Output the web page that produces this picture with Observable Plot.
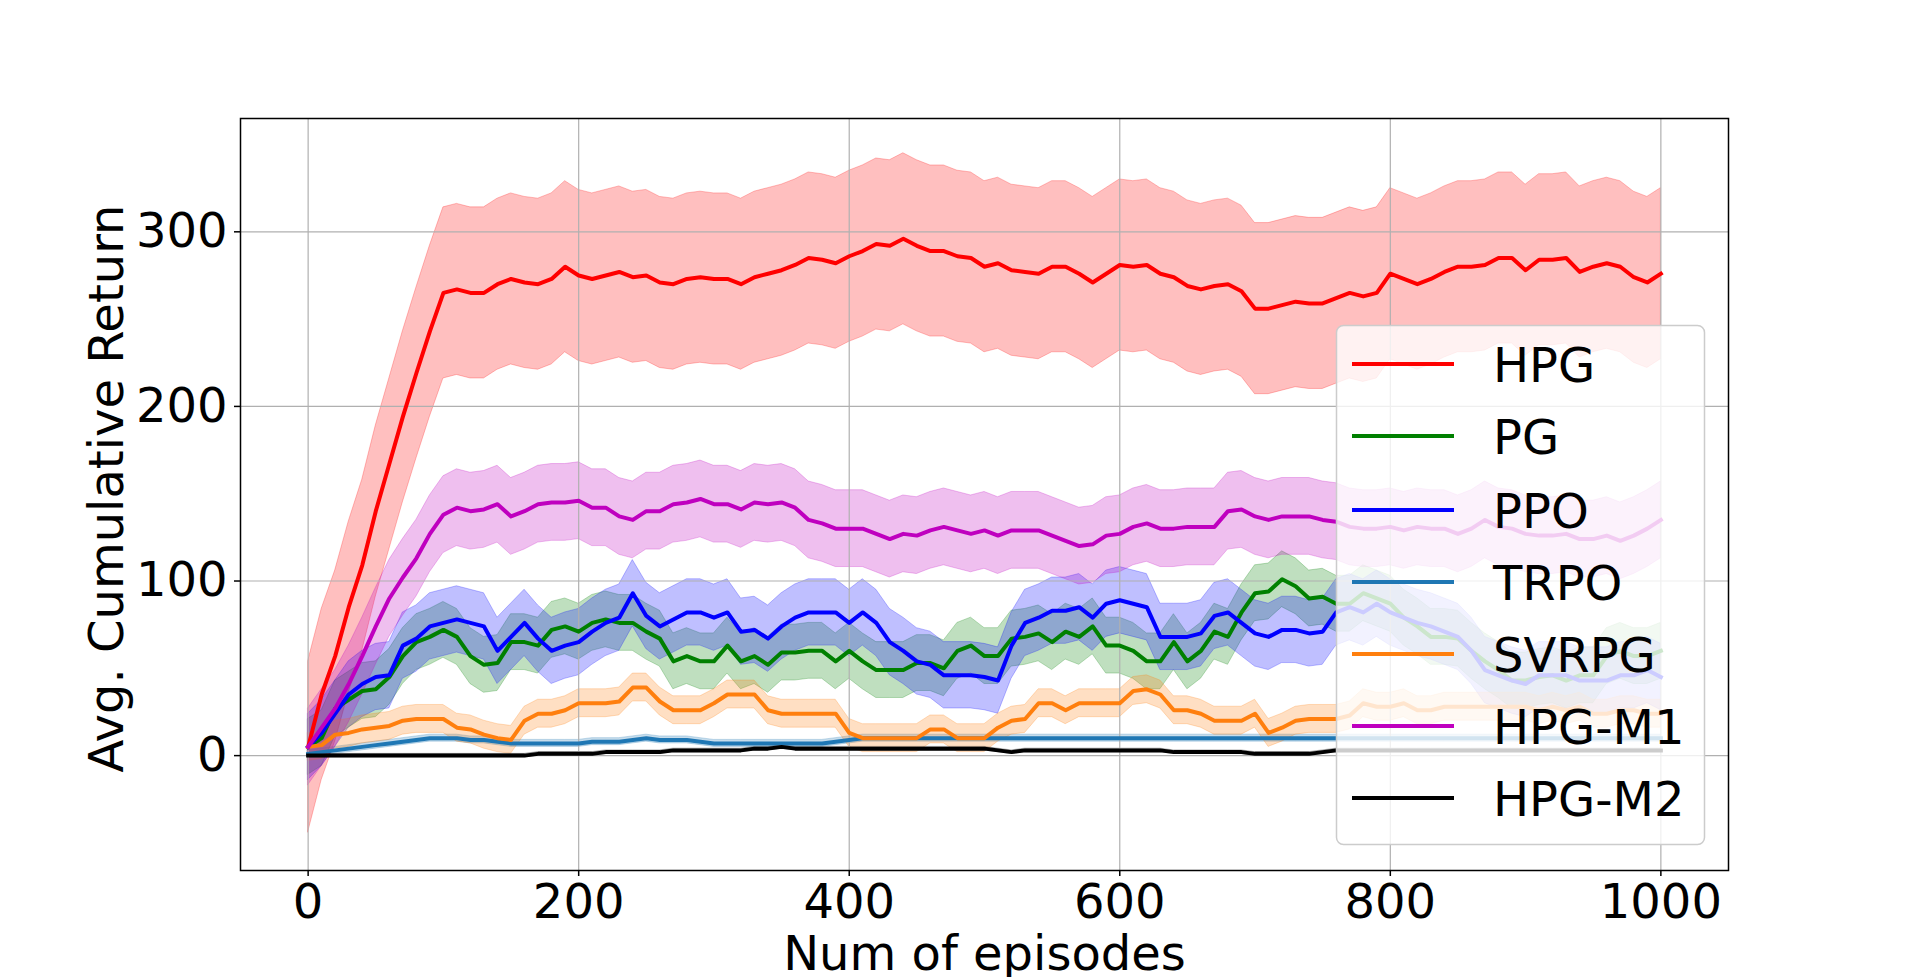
<!DOCTYPE html>
<html>
<head>
<meta charset="utf-8">
<script src="https://cdn.jsdelivr.net/npm/d3@7"></script>
<script src="https://cdn.jsdelivr.net/npm/@observablehq/plot@0.6"></script>
<style>
  html, body { margin: 0; padding: 0; background: #fff; }
  #wrap { position: relative; width: 1920px; height: 977px; overflow: hidden; }
  #wrap svg { position: absolute; left: 0; top: 0; }
</style>
</head>
<body>
<div id="wrap"></div>
<script>
// ---- data ----
const episodes = d3.range(0, 1001, 10);
const xTicks = [0, 200, 400, 600, 800, 1000];
const yTicks = [0, 100, 200, 300];

const names  = ["HPG", "PG", "PPO", "TRPO", "SVRPG", "HPG-M1", "HPG-M2"];
const colors = ["#ff0000", "#008000", "#0000ff", "#1f77b4", "#ff7f0e", "#bf00bf", "#000000"];

const hpg = [5,35,57,85,109,140,167,194,219,243,265,
  267,265,265,270,273,271,270,273,280,275,
  273,275,277,274,275,271,270,273,274,273,
  273,270,274,276,278,281,285,284,282,286,
  289,293,292,296,292,289,289,286,285,280,
  282,278,277,276,280,280,276,271,276,281,
  280,281,276,274,269,267,269,270,266,256,
  256,258,260,259,259,262,265,263,265,276,
  273,270,273,277,280,280,281,285,285,278,
  284,284,285,277,280,282,280,274,271,276];

const pg = [5,10,27,32,37,38,45,57,65,68,72,
  68,57,52,53,65,65,63,72,74,71,
  76,78,76,76,71,67,54,57,54,54,
  63,54,57,52,59,59,60,60,54,60,
  54,49,49,49,53,53,50,60,63,57,
  57,67,68,70,65,71,68,74,63,63,
  60,54,54,65,54,60,71,68,82,93,
  94,101,97,90,91,87,87,93,90,87,
  79,74,68,68,67,60,54,49,43,43,
  45,46,43,46,46,57,60,57,57,60];

const ppo = [5,13,24,35,41,45,46,63,67,74,76,
  78,76,74,60,68,76,67,60,63,65,
  71,76,79,93,80,74,78,82,82,79,
  82,71,72,67,74,79,82,82,82,76,
  82,76,65,60,54,52,46,46,46,45,
  43,63,76,79,83,83,85,79,87,89,
  87,85,68,68,68,70,80,82,76,70,
  68,72,72,70,71,82,85,82,87,82,
  79,76,74,71,68,60,49,46,43,41,
  46,46,46,43,43,43,46,46,49,45];

const trpo = [1,2,3,4,5,6,7,8,9,10,10,
  10,9,9,8,7,7,7,7,7,7,
  8,8,8,9,10,9,9,9,8,7,
  7,7,7,7,7,7,7,7,8,9,
  10,10,10,10,10,10,10,10,10,10,
  10,10,10,10,10,10,10,10,10,10,
  10,10,10,10,10,10,10,10,10,10,
  10,10,10,10,10,10,10,10,10,10,
  10,10,10,10,10,10,10,10,10,10,
  10,10,10,10,10,10,10,10,10,10];

const svrpg = [5,6,12,13,15,16,17,20,21,21,21,
  16,15,12,10,9,20,24,24,26,30,
  30,30,31,39,39,31,26,26,26,30,
  35,35,35,26,24,24,24,24,24,13,
  10,10,10,10,10,15,15,10,10,10,
  16,20,21,30,30,26,30,30,30,30,
  37,38,35,26,26,24,20,20,20,24,
  13,16,20,21,21,21,23,30,28,28,
  30,26,26,28,28,28,28,28,28,28,
  26,28,26,28,24,24,26,26,24,24];

const hpgM1 = [5,16,27,41,57,74,90,102,113,127,138,
  142,140,141,144,137,140,144,145,145,146,
  142,142,137,135,140,140,144,145,147,144,
  144,141,145,144,145,142,135,133,130,130,
  130,127,124,127,126,129,131,129,127,129,
  126,129,129,129,126,123,120,121,126,127,
  131,133,130,130,131,131,131,140,141,137,
  135,137,137,137,135,134,131,130,130,131,
  129,131,130,130,127,130,135,131,130,127,
  126,126,127,124,124,126,123,126,130,135];

const hpgM2 = [0,0,0,0,0,0,0,0,0,0,0,
  0,0,0,0,0,0,1,1,1,1,
  1,2,2,2,2,2,3,3,3,3,
  3,3,4,4,5,4,4,4,4,4,
  4,4,4,4,4,4,4,4,4,4,
  3,2,3,3,3,3,3,3,3,3,
  3,3,3,2,2,2,2,2,2,1,
  1,1,1,1,2,3,3,3,3,3,
  3,3,3,3,3,3,3,3,3,3,
  3,3,3,3,3,3,3,3,3,3];

// half-width of each shaded band (one std)
const bandWidths = [49, 16, 19, 2, 8, 22, 1];

// ---- build table ----
const means = [hpg, pg, ppo, trpo, svrpg, hpgM1, hpgM2];
const seriesRows = names.map((name, i) =>
  episodes.map((ep, j) => ({
    ep, name,
    v: means[i][j],
    lo: means[i][j] - bandWidths[i],
    hi: means[i][j] + bandWidths[i]
  }))
);

const FONT = "DejaVu Sans";
const marks = [];
seriesRows.forEach((rows, i) => {
  marks.push(Plot.areaY(rows, {
    x: "ep", y1: "lo", y2: "hi",
    fill: colors[i], fillOpacity: 0.25,
    stroke: colors[i], strokeOpacity: 0.25, strokeWidth: 1
  }));
});
marks.push(Plot.ruleX(xTicks, {stroke: "#b0b0b0", strokeWidth: 1.2}));
marks.push(Plot.ruleY(yTicks, {stroke: "#b0b0b0", strokeWidth: 1.2}));
seriesRows.forEach((rows, i) => {
  marks.push(Plot.lineY(rows, {
    x: "ep", y: "v", stroke: colors[i], strokeWidth: 4,
    strokeLinejoin: "round", strokeLinecap: "square"
  }));
});
marks.push(Plot.frame({stroke: "black", strokeWidth: 1.5}));
marks.push(Plot.axisX(xTicks, {
  tickSize: 6, tickPadding: 7, strokeWidth: 1.5, fontSize: 48,
  tickFormat: d3.format("d"), label: null
}));
marks.push(Plot.axisY(yTicks, {
  tickSize: 6, tickPadding: 7, strokeWidth: 1.5, fontSize: 48,
  tickFormat: d3.format("d"), label: null
}));
marks.push(Plot.text(["Num of episodes"], {
  text: d => d, frameAnchor: "bottom", dy: 99, lineAnchor: "bottom",
  textAnchor: "middle", fontSize: 48, fill: "black"
}));
marks.push(Plot.text(["Avg. Cumulative Return"], {
  text: d => d, frameAnchor: "left", dx: -118, dy: -6, rotate: -90,
  lineAnchor: "bottom", textAnchor: "middle", fontSize: 48, fill: "black"
}));

const chart = Plot.plot({
  width: 1920, height: 977,
  marginLeft: 240, marginRight: 192, marginTop: 118, marginBottom: 107,
  x: {domain: [-50, 1050]},
  y: {domain: [-65.8, 364.9]},
  style: {fontFamily: FONT, fontSize: "48px", background: "white", color: "black", overflow: "visible"},
  marks
});
const wrap = document.getElementById("wrap");
wrap.appendChild(chart);

// ---- legend overlay (upper-right inside the axes) ----
const leg = d3.select(wrap).append("svg")
  .attr("width", 1920).attr("height", 977)
  .style("pointer-events", "none");
leg.append("rect")
  .attr("x", 1336.5).attr("y", 325.5).attr("width", 368).attr("height", 519)
  .attr("rx", 7).attr("ry", 7)
  .attr("fill", "white").attr("fill-opacity", 0.8)
  .attr("stroke", "#cccccc").attr("stroke-width", 1.5);
const rowY = [364, 436, 510, 582, 654, 726, 798];
names.forEach((name, i) => {
  leg.append("line")
    .attr("x1", 1352).attr("x2", 1454).attr("y1", rowY[i]).attr("y2", rowY[i])
    .attr("stroke", colors[i]).attr("stroke-width", 4);
  leg.append("text")
    .attr("x", 1493).attr("y", rowY[i] + 17.5)
    .attr("font-family", FONT).attr("font-size", 48).attr("fill", "black")
    .text(name);
});
</script>
</body>
</html>
